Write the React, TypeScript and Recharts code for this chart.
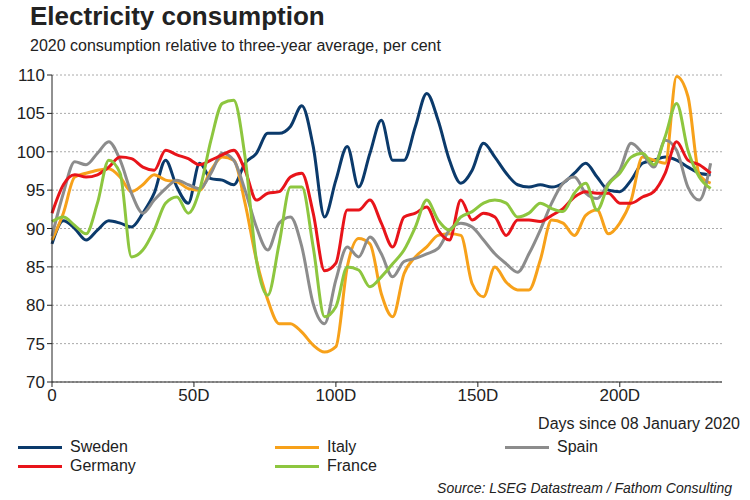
import React from 'react';
import { LineChart, Line, XAxis, YAxis, CartesianGrid } from 'recharts';

const days = [0, 4, 8, 12, 16, 20, 24, 28, 32, 36, 40, 44, 48, 52, 56, 60, 64, 68, 72, 76, 80, 84, 88, 92, 96, 100, 104, 108, 112, 116, 120, 124, 128, 132, 136, 140, 144, 148, 152, 156, 160, 164, 168, 172, 176, 180, 184, 188, 192, 196, 200, 204, 208, 212, 216, 220, 224, 228, 232];

const sweden = [88, 91, 90, 88.5, 89.8, 91, 90.7, 90.2, 92, 94.6, 98.9, 95.4, 93.3, 98.5, 96.5, 96.3, 95.7, 98.5, 99.8, 102.4, 102.4, 103.3, 106, 100.7, 91.5, 96.3, 100.7, 95.4, 99.8, 104.1, 98.9, 98.9, 103.3, 107.6, 104.1, 98.9, 95.9, 97.6, 101.1, 99.3, 97.2, 95.7, 95.4, 95.7, 95.4, 95.9, 97.2, 98.5, 96.7, 95, 94.8, 96.3, 98.5, 98.9, 99.3, 98.9, 98, 97.2, 97];
const germany = [92, 95.7, 97, 96.7, 97, 98, 99.3, 99.1, 98, 97.6, 100.2, 99.6, 99.1, 98.3, 98.9, 99.6, 100.2, 97.6, 93.7, 94.6, 94.8, 96.7, 97.2, 92, 84.5, 85.5, 92.4, 92.4, 93.7, 90.7, 87.6, 91.5, 92, 92.8, 89.8, 88.5, 93.7, 91.1, 92, 91.5, 89.1, 91.1, 91.1, 90.9, 91.7, 92.6, 94.1, 94.8, 94.6, 94.6, 93.3, 93.3, 94.1, 94.8, 97.2, 101.3, 98.9, 98.3, 97.2];
const italy = [88.5, 92, 96.7, 97.2, 97.6, 97.8, 96.7, 94.8, 95.7, 97, 96.3, 96.1, 95.2, 95, 97.6, 99.3, 98.9, 93.3, 85.9, 80.7, 77.6, 77.6, 76.5, 74.8, 73.9, 74.6, 85, 88.7, 88, 81.5, 78.5, 84.1, 86.3, 87.6, 89.1, 89.3, 89.1, 82.8, 81.1, 85, 83, 82, 82, 85.9, 91.1, 90.7, 89.1, 91.7, 92.4, 89.3, 90.7, 93.7, 99.3, 98.9, 98.5, 109.8, 107.2, 97, 95.9];
const spain = [89, 94.6, 98.7, 98.3, 99.8, 101.3, 98.9, 94.6, 92, 93.7, 95.2, 96.3, 95.7, 95.2, 97.2, 99.8, 98.9, 95, 90.2, 87.2, 90.7, 91.5, 87.6, 80.2, 77.6, 83.3, 87.6, 86.3, 88.9, 86.7, 83.7, 85.7, 86.1, 86.7, 87.4, 89.8, 90.7, 90.2, 88.5, 86.7, 85.4, 84.3, 86.7, 89.8, 93.3, 95.9, 96.7, 94.6, 93.9, 95.9, 97.6, 101.1, 99.8, 98, 101.5, 100.2, 95.4, 93.7, 98.5];
const france = [90.9, 91.5, 90.4, 89.3, 93.3, 98.9, 97.2, 86.3, 87.2, 89.8, 93.3, 94.1, 92, 95, 101.5, 106.3, 106.7, 99.3, 85.9, 81.3, 88, 95.4, 95.4, 87.6, 78.5, 79.8, 85, 84.6, 82.4, 83.7, 85.4, 87.2, 90.2, 93.7, 91.1, 89.8, 91.5, 92.2, 93.3, 93.7, 93.3, 91.5, 92, 93.3, 92.6, 92.2, 94.6, 95.9, 92.4, 95.7, 97.2, 99.3, 99.8, 98.3, 102, 106.3, 100.2, 96.7, 95.2];

const xTicks = [0, 50, 100, 150, 200];
const yTicks = [70, 75, 80, 85, 90, 95, 100, 105, 110];

const seriesList = [
  { key: 'Sweden', values: sweden, color: '#0b3a6b' },
  { key: 'Italy', values: italy, color: '#f7a11a' },
  { key: 'Spain', values: spain, color: '#8c8c8c' },
  { key: 'Germany', values: germany, color: '#e8141a' },
  { key: 'France', values: france, color: '#8dc63f' },
];

const data = days.map((d, i) => {
  const row: any = { day: d };
  seriesList.forEach((s) => { row[s.key] = s.values[i]; });
  return row;
});

const font = '"Liberation Sans", Arial, sans-serif';
const legendPos = [
  { left: 18, top: 438 }, { left: 275, top: 438 }, { left: 505, top: 438 },
  { left: 18, top: 457 }, { left: 275, top: 457 },
];

const App = () => {
  return (
    <div style={{ position: 'absolute', left: 0, top: 0, width: 750, height: 500, background: '#fff', fontFamily: font, color: '#222' }}>
      <div style={{ position: 'absolute', left: 30, top: 1, fontSize: 26, fontWeight: 'bold' }}>Electricity consumption</div>
      <div style={{ position: 'absolute', left: 30, top: 37, fontSize: 16 }}>2020 consumption relative to three-year average, per cent</div>
      <LineChart width={750} height={500} data={data} margin={{ top: 75, right: 28, bottom: 88, left: 0 }}>
        <CartesianGrid vertical={false} stroke="#aaa" strokeDasharray="2 2" />
        <XAxis dataKey="day" type="number" domain={[0, 236]} ticks={xTicks} height={30}
          tickFormatter={(v) => (v === 0 ? '0' : `${v}D`)}
          tick={{ fill: '#222', fontSize: 17, fontFamily: font }} stroke="#222" tickSize={5} />
        <YAxis domain={[70, 110]} ticks={yTicks} width={52} interval={0}
          tick={{ fill: '#222', fontSize: 17, fontFamily: font }} stroke="#222" tickSize={5} />
        {seriesList.map((s) => (
          <Line key={s.key} dataKey={s.key} type="monotone" stroke={s.color} strokeWidth={3}
            dot={false} isAnimationActive={false} />
        ))}
      </LineChart>
      <div style={{ position: 'absolute', right: 10, top: 415, fontSize: 16 }}>Days since 08 January 2020</div>
      {seriesList.map((s, i) => (
        <div key={s.key} style={{ position: 'absolute', left: legendPos[i].left, top: legendPos[i].top, display: 'flex', alignItems: 'center', fontSize: 16 }}>
          <span style={{ display: 'inline-block', width: 44, height: 3, background: s.color, marginRight: 8 }} />
          {s.key}
        </div>
      ))}
      <div style={{ position: 'absolute', right: 18, top: 480, fontSize: 14, fontStyle: 'italic' }}>Source: LSEG Datastream / Fathom Consulting</div>
    </div>
  );
};

export default App;
